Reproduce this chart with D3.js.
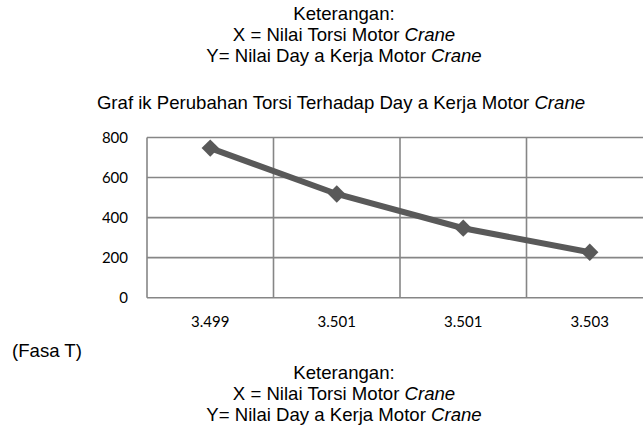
<!DOCTYPE html>
<html lang="en">
<head>
<meta charset="utf-8">
<title>Grafik Perubahan Torsi Terhadap Daya Kerja Motor Crane</title>
<script src="https://cdn.jsdelivr.net/npm/d3@7/dist/d3.min.js"></script>
<style>
  body { margin: 0; background: #fff; }
  svg { display: block; }
  .note { font-family: "Liberation Sans", Arial, sans-serif; font-size: 18.6px; fill: #000; }
  .tick text { font-family: Lato, "Open Sans", sans-serif; font-size: 15px; fill: #000; }
</style>
</head>
<body>
<svg id="chart" width="643" height="432"></svg>
<script>
// torsi (x labels) and daya kerja (y values), fasa T
var torsi = ['3.499', '3.501', '3.501', '3.503'];
var daya = [747, 518, 347, 227];
var yTicks = [0, 200, 400, 600, 800];

var keterangan = ['Keterangan:', 'X = Nilai Torsi Motor ', 'Y= Nilai Day a Kerja Motor '];

var svg = d3.select('#chart');

var pLeft = 147, pRight = 653, pTop = 137.5, pBottom = 297.7;

var x = d3.scaleBand()
    .domain(d3.range(torsi.length))
    .range([pLeft, pRight]);
var y = d3.scaleLinear()
    .domain([0, 800])
    .range([pBottom, pTop]);

// notes block, top and bottom
function notes(y0) {
    var g = svg.append('g');
    keterangan.forEach(function(t, i) {
        var txt = g.append('text')
            .attr('class', 'note')
            .attr('x', 344)
            .attr('y', y0 + i * 21)
            .attr('text-anchor', 'middle');
        txt.append('tspan').text(t);
        if (i > 0) txt.append('tspan').attr('font-style', 'italic').text('Crane');
    });
}
notes(20);
notes(379);

var title = svg.append('text')
    .attr('class', 'note')
    .attr('x', 341)
    .attr('y', 109)
    .attr('text-anchor', 'middle');
title.append('tspan').text('Graf ik Perubahan Torsi Terhadap  Day a Kerja Motor ');
title.append('tspan').attr('font-style', 'italic').text('Crane');

svg.append('text')
    .attr('class', 'note')
    .attr('x', 12)
    .attr('y', 357)
    .text('(Fasa T)');

// gridlines
var grid = svg.append('g').attr('stroke', '#868686').attr('stroke-width', 1.6);
yTicks.forEach(function(v) {
    grid.append('line')
        .attr('x1', pLeft).attr('x2', pRight)
        .attr('y1', y(v)).attr('y2', y(v));
});
d3.range(torsi.length + 1).forEach(function(i) {
    var xx = pLeft + i * x.step();
    grid.append('line')
        .attr('x1', xx).attr('x2', xx)
        .attr('y1', y(0)).attr('y2', y(800));
});

// axes (labels only)
var yAxis = svg.append('g')
    .attr('transform', 'translate(' + (pLeft - 15) + ',0)')
    .call(d3.axisLeft(y).tickValues(yTicks).tickSize(0).tickPadding(4));
yAxis.select('.domain').remove();

var xAxis = svg.append('g')
    .attr('transform', 'translate(0,' + (pBottom + 16) + ')')
    .call(d3.axisBottom(x).tickSize(0).tickFormat(function(i) { return torsi[i]; }));
xAxis.select('.domain').remove();

// line + markers
var line = d3.line()
    .x(function(d, i) { return x(i) + x.bandwidth() / 2; })
    .y(function(d) { return y(d); });

svg.append('path')
    .datum(daya)
    .attr('fill', 'none')
    .attr('stroke', '#595959')
    .attr('stroke-width', 6)
    .attr('d', line);

svg.selectAll('.pt')
    .data(daya)
    .enter().append('path')
    .attr('class', 'pt')
    .attr('d', d3.symbol().type(d3.symbolSquare).size(150))
    .attr('fill', '#595959')
    .attr('transform', function(d, i) {
        return 'translate(' + (x(i) + x.bandwidth() / 2) + ',' + y(d) + ') rotate(45)';
    });
</script>
</body>
</html>
